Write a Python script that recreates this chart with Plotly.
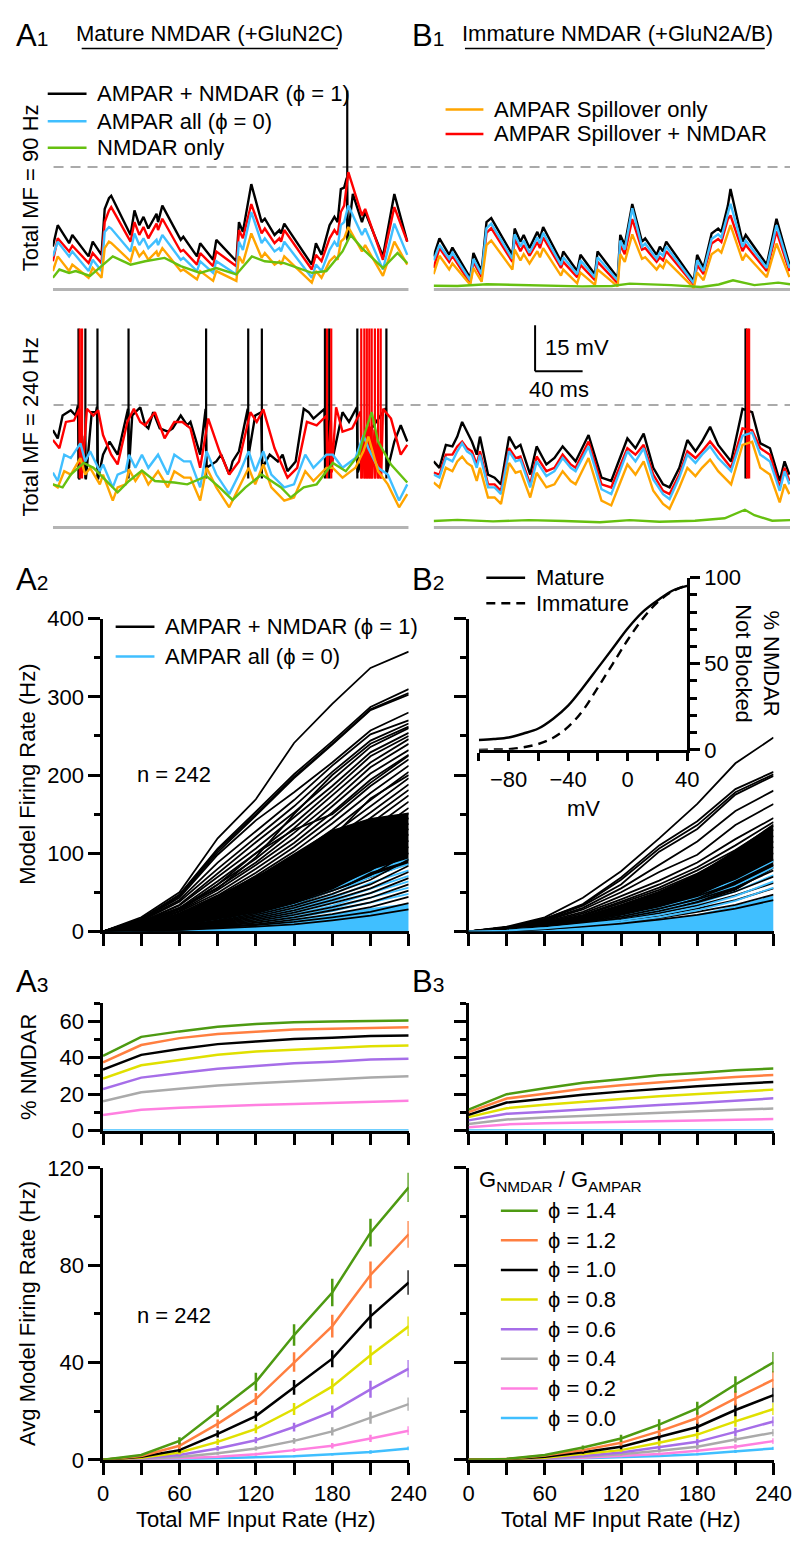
import plotly.graph_objects as go

W, H = 809, 1543
FONT = "Liberation Sans, Arial, sans-serif"
FS = 22

# colours
C_BLACK = "#000000"
C_BLUE = "#40bfff"
C_GREEN = "#66c010"
C_ORANGE = "#ffa500"
C_RED = "#ff0000"
PHI_COLORS = ["#4d9a12", "#ff7f40", "#000000", "#e0e000", "#a66ee8", "#aaaaaa", "#ff80e0", "#40bfff"]
PHI_LABELS = ["1.4", "1.2", "1.0", "0.8", "0.6", "0.4", "0.2", "0.0"]

# ---------------- voltage traces (ms, mV) ----------------
v_rest = -80
v_thr = -40
spike_top = -15
spike_base = -64

# A1, total MF = 90 Hz
a90_t = [0, 4.1, 13.7, 16.4, 30.1, 33.6, 41.0, 43.7, 47.3, 49.2, 65.5, 68.8, 72.9, 76.4, 80.5, 87.4, 88.7, 92.3,
         107.8, 110.0, 121.5, 124.2, 135.1, 137.8, 154.7, 156.9, 160.2, 167.3, 176.0, 178.7, 186.9, 191.0, 192.4,
         195.1, 218.3, 221.8, 226.5, 233.3, 237.4, 240.1, 242.8, 245.6, 249.1, 260.6, 263.3, 278.3, 287.9, 298.8]
a90_black_t = a90_t[:42] + [247.8, 248.6, 252.9] + a90_t[43:]
a90_black = [-66.0, -59.0, -64.9, -62.2, -69.2, -64.4, -68.7, -53.7, -50.2, -49.4, -62.2, -54.2, -59.0, -56.3, -60.1,
             -55.3, -58.0, -52.6, -63.8, -62.8, -69.2, -64.9, -70.3, -63.8, -70.8, -58.0, -61.2, -45.6, -58.0, -56.9,
             -62.2, -60.6, -61.7, -58.5, -71.9, -64.9, -68.7, -59.0, -56.3, -58.0, -47.2, -46.7,
             -43.5, -63.3, -48.8, -58.0, -54.7, -69.2, -48.8, -64.4]
a90_black_spikes = [248.2]
a90_red = [-70.8, -63.3, -67.6, -65.7, -71.4, -68.1, -71.4, -58.0, -54.2, -53.1, -64.4, -58.0, -62.2, -59.6, -63.3,
           -58.5, -60.6, -56.9, -67.6, -67.1, -71.9, -68.1, -72.4, -67.6, -72.4, -60.6, -63.3, -52.1, -61.7, -60.1,
           -64.9, -63.3, -64.4, -60.6, -73.5, -68.7, -70.8, -63.3, -60.6, -62.2, -54.7, -52.6, -41.7, -55.8, -53.7,
           -70.3, -53.1, -64.4]
a90_blue = [-69.2, -64.4, -69.2, -67.6, -74.0, -70.3, -74.0, -61.2, -59.6, -60.1, -67.6, -61.7, -65.5, -63.3, -66.5,
            -63.8, -65.5, -62.2, -70.3, -69.7, -74.0, -70.8, -74.6, -70.8, -75.1, -64.4, -67.1, -54.7, -64.9, -63.3,
            -67.6, -66.5, -67.6, -64.4, -76.2, -71.9, -74.0, -67.1, -64.4, -66.0, -59.0, -58.0, -52.6, -62.2, -60.1,
            -73.5, -58.5, -68.7]
a90_orange = [-74.0, -69.2, -74.0, -71.9, -76.2, -73.0, -76.2, -66.5, -64.4, -64.8, -70.8, -66.0, -69.2, -67.6, -70.3,
              -67.6, -69.2, -66.5, -74.0, -73.5, -76.7, -74.0, -77.2, -74.0, -77.2, -69.2, -71.4, -61.7, -69.7, -68.1,
              -71.9, -70.8, -71.9, -69.2, -77.8, -74.0, -76.2, -70.8, -69.2, -70.3, -64.4, -63.3, -59.6, -67.6, -65.5,
              -75.6, -64.4, -71.9]
a90_green_t = [0, 5.5, 13.7, 19.2, 31.4, 42.3, 50.5, 65.5, 77.8, 94.2, 107.8, 124.2, 137.8, 154.7, 167.8, 178.7,
               195.1, 218.3, 230.6, 244.2, 251.0, 260.6, 278.3, 290.6, 298.8]
a90_green = [-76.2, -73.5, -74.6, -74.0, -75.6, -71.9, -69.2, -71.9, -70.8, -69.7, -72.4, -74.6, -73.0, -75.1, -69.2,
             -70.8, -71.4, -74.6, -74.0, -67.6, -62.2, -66.5, -73.0, -68.1, -71.4]

# B1, total MF = 90 Hz
b90_t = [0, 4.9, 13.1, 15.8, 30.8, 33.5, 40.4, 44.5, 48.5, 66.3, 68.2, 73.1, 75.8, 80.7, 87.3, 89.5, 92.2, 107.2,
         109.1, 120.8, 123.6, 135.8, 138.0, 154.9, 157.1, 160.9, 167.2, 175.4, 178.1, 187.7, 190.4, 193.1, 195.8,
         219.0, 221.8, 227.2, 234.0, 239.5, 242.2, 247.7, 249.9, 260.0, 262.7, 280.4, 288.6, 299.5]
b90_black = [-69.2, -63.3, -68.7, -66.3, -76.2, -68.1, -74.0, -58.0, -56.7, -68.7, -60.1, -64.4, -62.2, -66.5, -61.2,
             -63.3, -59.6, -70.8, -67.6, -74.0, -68.7, -75.1, -67.6, -76.2, -62.2, -65.5, -52.1, -64.4, -63.3, -68.7,
             -66.0, -67.6, -64.4, -77.2, -68.7, -72.9, -61.7, -60.1, -61.2, -52.6, -47.2, -64.4, -62.2, -71.9, -56.9,
             -71.9]
b90_blue = [-70.5, -65.5, -70.0, -68.0, -77.0, -70.0, -75.0, -60.0, -58.5, -70.0, -62.0, -66.0, -64.0, -68.0, -63.0,
            -65.0, -61.5, -72.0, -69.5, -75.0, -70.5, -76.0, -69.5, -77.0, -64.0, -67.0, -53.5, -66.0, -65.0, -70.0,
            -68.0, -69.0, -66.0, -78.0, -70.5, -74.0, -63.5, -62.0, -63.0, -55.0, -52.0, -66.0, -64.0, -73.0, -59.0,
            -73.0]
b90_red = [-73.0, -66.5, -71.0, -69.0, -78.0, -71.0, -76.0, -61.5, -60.0, -71.0, -63.5, -67.5, -65.5, -69.0, -64.5,
           -66.5, -63.0, -73.0, -71.0, -76.0, -72.0, -77.0, -71.0, -78.0, -65.5, -68.5, -57.0, -67.0, -66.5, -71.0,
           -69.5, -70.5, -67.5, -78.5, -72.0, -75.0, -65.0, -63.5, -64.5, -57.0, -55.8, -67.5, -65.5, -74.0, -61.0,
           -74.0]
b90_orange = [-75.0, -69.0, -73.5, -71.5, -78.5, -73.0, -77.5, -65.5, -64.0, -73.5, -67.0, -70.5, -68.5, -71.5, -67.5,
              -69.5, -66.5, -75.5, -73.5, -78.0, -74.5, -78.5, -73.5, -79.0, -68.5, -71.0, -62.0, -70.0, -69.5, -73.5,
              -72.0, -73.0, -70.5, -79.5, -74.5, -77.0, -68.5, -67.0, -68.0, -61.5, -59.0, -70.5, -68.5, -76.0, -65.0,
              -76.0]
b90_green_t = [0, 20, 45, 70, 100, 125, 150, 165, 200, 225, 240, 252, 270, 290, 300]
b90_green = [-78.8, -78.9, -78.3, -78.5, -78.6, -79.0, -78.9, -78.1, -78.6, -79.2, -78.4, -77.0, -78.6, -77.8, -78.3]

# A1, total MF = 240 Hz
a240_black_t = [0, 4.1, 8.2, 15.1, 19.2, 21.1, 22.2, 26.0, 27.0, 27.8, 32.8, 36.3, 37.2, 38.0, 42.3, 47.8, 54.6, 60.1,
                63.4, 64.2, 66.9, 73.7, 77.8, 80.5, 84.6, 90.1, 96.9, 101.0, 107.8, 113.3, 116.0, 124.2, 128.8, 129.6,
                137.8, 141.9, 148.7, 151.5, 156.9, 164.3, 165.1, 170.6, 175.7, 176.6, 182.8, 189.7, 193.7, 197.8,
                204.7, 211.5, 215.6, 219.7, 222.4, 229.0, 229.9, 232.5, 233.4, 244.2, 249.7, 253.8, 256.3, 257.1,
                268.8, 278.3, 280.8, 281.6, 287.9, 293.3, 298.8]
a240_black = [-48.2, -50.9, -43.4, -41.7, -43.4, -40.1, -64.3, -56.0, -50.0, -64.3, -42.3, -42.3, -40.5, -64.3, -56.2,
              -51.9, -56.2, -46.6, -41.2, -60.5, -43.4, -40.7, -46.6, -47.6, -42.3, -47.6, -48.7, -47.6, -43.4, -46.6,
              -45.5, -56.2, -41.2, -60.5, -58.4, -56.2, -62.7, -58.4, -55.1, -41.2, -56.2, -43.4, -42.3, -60.5,
              -56.2, -58.4, -56.2, -61.6, -58.4, -41.2, -42.3, -44.4, -43.4, -41.2, -62.0, -45.0, -62.0, -42.3,
              -45.5, -42.3, -40.7, -62.0, -47.6, -42.3, -41.0, -62.0, -51.9, -46.6, -51.9]
a240_black_spikes = [21.6, 27.4, 37.6, 63.8, 129.2, 164.7, 176.2, 229.4, 233.0, 256.7, 281.2]
a240_red_t = [0, 5.5, 11.0, 17.8, 22.3, 23.1, 24.3, 25.0, 28.7, 34.2, 38.2, 42.3, 49.2, 54.6, 62.8, 68.3, 73.7, 77.8,
              86.0, 94.2, 102.4, 109.2, 116.0, 124.2, 131.0, 140.5, 148.7, 156.9, 166.5, 171.9, 177.4, 186.9, 197.8,
              206.0, 214.2, 222.4, 230.8, 231.5, 234.4, 235.1, 238.8, 244.2, 252.4, 259.6, 260.4, 262.3, 263.0,
              264.4, 265.1, 266.5, 267.2, 268.5, 269.2, 271.2, 271.9, 273.9, 274.6, 276.1, 276.8, 278.3, 285.1,
              293.3, 298.8]
a240_red = [-51.4, -54.1, -45.5, -45.0, -41.2, -62.0, -48.0, -62.0, -41.2, -43.4, -41.7, -49.8, -56.2, -59.4, -45.5,
            -41.2, -45.5, -46.6, -42.3, -50.9, -45.5, -45.5, -47.6, -60.5, -44.4, -55.1, -62.7, -58.4, -42.3, -45.5,
            -41.4, -54.1, -63.7, -60.5, -45.5, -46.6, -43.4, -62.0, -45.0, -62.0, -40.7, -48.7, -47.6, -42.0, -64.0,
            -50.0, -64.0, -48.0, -64.0, -47.0, -64.0, -47.0, -64.0, -48.0, -64.0, -50.0, -64.0, -52.0, -64.0, -41.2,
            -44.4, -56.2, -53.0]
a240_red_spikes = [22.7, 24.6, 231.1, 234.7, 260.0, 262.6, 264.7, 266.8, 268.8, 271.5, 274.2, 276.4]
a240_t = [0, 4.1, 9.6, 15.1, 23.2, 27.3, 31.4, 39.6, 42.3, 50.5, 54.6, 61.4, 64.2, 69.6, 75.1, 80.5, 88.7, 96.9,
          102.4, 110.5, 116.0, 124.2, 129.6, 137.8, 148.7, 156.9, 165.1, 170.6, 177.4, 184.2, 195.1, 203.3, 212.8,
          219.7, 230.6, 236.0, 244.2, 255.1, 261.9, 266.0, 274.2, 282.4, 291.9, 298.8]
a240_blue = [-62.1, -64.8, -56.2, -57.3, -52.5, -58.4, -55.1, -61.6, -59.4, -66.9, -62.7, -61.6, -56.2, -60.5, -56.2,
             -60.5, -56.2, -62.7, -56.2, -58.4, -58.4, -66.9, -55.1, -62.7, -69.1, -62.7, -55.1, -61.6, -55.1, -62.7,
             -66.9, -65.9, -56.2, -60.5, -56.2, -56.2, -60.5, -57.3, -49.8, -54.1, -60.5, -62.7, -71.2, -65.9]
a240_orange = [-65.9, -66.9, -61.6, -62.7, -57.3, -62.7, -60.5, -65.9, -62.7, -71.2, -66.9, -65.9, -61.0, -64.8,
               -61.6, -65.9, -61.6, -66.9, -61.6, -63.7, -63.7, -71.2, -60.5, -66.9, -73.4, -66.9, -60.5, -65.9,
               -59.4, -66.9, -71.2, -70.2, -61.6, -64.8, -60.5, -60.5, -63.7, -60.5, -55.0, -50.3, -61.6, -65.9,
               -73.4, -69.1]
a240_green_t = [0, 8.2, 15.1, 26.0, 34.2, 42.3, 54.6, 64.2, 75.1, 86.0, 102.4, 113.3, 129.6, 140.5, 151.5, 162.4,
                176.0, 192.4, 200.6, 211.5, 222.4, 236.0, 247.0, 257.9, 263.3, 268.8, 274.2, 285.1, 298.8]
a240_green = [-65.9, -66.9, -62.7, -58.9, -60.5, -63.7, -68.5, -64.8, -61.4, -64.8, -65.3, -65.9, -63.2, -66.9, -71.0,
              -66.9, -62.7, -66.9, -70.2, -66.9, -65.9, -58.9, -61.6, -56.2, -48.7, -42.3, -51.9, -59.4, -65.3]

# B1, total MF = 240 Hz
b240_t = [0, 4.9, 10.3, 15.8, 19.9, 24.0, 28.1, 32.2, 36.3, 39.0, 45.8, 51.3, 56.7, 63.5, 69.0, 73.1, 81.3, 86.7,
          94.9, 101.7, 108.6, 115.4, 119.5, 130.4, 141.3, 149.5, 163.1, 169.9, 176.8, 184.9, 193.1, 198.6, 206.8,
          213.6, 220.4, 225.9, 232.7, 239.5, 250.4, 260.0, 268.1, 275.0, 283.1, 291.3, 295.4, 299.5]
b240_black = [-58.4, -60.5, -53.0, -53.5, -50.3, -45.5, -48.7, -51.9, -56.2, -50.3, -62.7, -63.7, -65.9, -50.3, -54.1,
              -53.0, -62.7, -53.5, -59.4, -57.3, -53.5, -56.8, -58.4, -49.8, -63.7, -64.8, -50.9, -54.1, -49.3, -60.5,
              -65.9, -66.9, -60.5, -51.4, -55.1, -51.9, -47.1, -53.0, -58.4, -41.2, -42.3, -52.5, -54.1, -64.8, -58.4,
              -62.7]
b240_red = [-62.1, -62.7, -56.2, -56.2, -53.5, -51.9, -54.1, -55.1, -59.4, -55.1, -65.9, -65.9, -68.0, -54.1, -57.3,
            -56.8, -65.9, -56.8, -61.6, -60.5, -56.2, -59.4, -60.5, -51.9, -65.9, -66.9, -54.1, -56.2, -53.0, -62.7,
            -68.0, -69.1, -62.7, -55.1, -57.3, -55.1, -51.9, -55.1, -60.5, -47.6, -48.2, -54.1, -56.2, -66.9, -60.5,
            -64.8]
b240_blue = [-62.7, -63.7, -57.3, -58.4, -55.1, -52.5, -55.1, -56.2, -60.5, -56.2, -66.9, -66.9, -69.1, -55.1, -58.4,
             -57.8, -66.9, -58.4, -63.2, -61.6, -57.3, -60.5, -61.6, -53.5, -67.5, -69.1, -55.1, -58.4, -54.1, -64.3,
             -69.1, -70.7, -63.7, -56.2, -58.9, -56.2, -53.5, -57.3, -61.6, -50.0, -49.0, -56.2, -58.4, -68.0, -61.6,
             -65.9]
b240_orange = [-65.3, -66.9, -60.5, -61.6, -58.4, -56.8, -58.9, -60.0, -64.8, -60.5, -70.2, -70.2, -72.3, -58.9,
               -62.1, -61.6, -70.2, -62.1, -66.9, -65.9, -61.6, -64.8, -65.9, -57.3, -71.2, -72.8, -59.4, -62.7,
               -58.4, -68.0, -72.3, -73.9, -66.9, -60.5, -63.2, -60.5, -57.8, -61.6, -65.9, -53.0, -52.0, -60.5,
               -62.7, -71.8, -65.9, -69.1]
b240_black_spikes = [262.7]
b240_red_spikes = [264.0, 265.4]
b240_green_t = [0, 20, 50, 80, 110, 140, 165, 190, 220, 245, 262, 270, 285, 300]
b240_green = [-77.9, -77.5, -78.0, -77.6, -77.9, -78.3, -77.6, -78.1, -77.8, -77.0, -74.2, -76.0, -77.8, -77.6]

scalebar_ms = 40
scalebar_mv = 15

# ---------------- firing rate vs input rate ----------------
mf_rate = [0, 30, 60, 90, 120, 150, 180, 210, 240]

a2_black = [
    [0, 18, 50, 119, 169, 241, 291, 337, 358],
    [0, 16, 47, 106, 153, 201, 243, 287, 310],
    [0, 16, 46, 104, 150, 198, 240, 284, 305],
    [0, 15, 45, 101, 148, 196, 239, 283, 303],
    [0, 15, 43, 98, 142, 178, 216, 257, 280],
    [0, 14, 40, 88, 128, 168, 212, 252, 270],
    [0, 12, 30, 55, 95, 150, 200, 240, 262],
    [0, 13, 38, 80, 120, 160, 204, 244, 266],
    [0, 12, 34, 74, 114, 152, 194, 236, 260],
    [0, 12, 33, 70, 106, 146, 186, 229, 254],
    [0, 11, 30, 64, 100, 138, 180, 224, 250],
    [0, 11, 29, 60, 93, 132, 174, 216, 246],
    [0, 10, 28, 56, 88, 126, 166, 210, 240],
    [0, 10, 26, 53, 85, 119, 160, 202, 232],
    [0, 9, 26, 60, 100, 130, 150, 190, 225],
    [0, 9, 25, 49, 80, 113, 152, 194, 226],
    [0, 9, 23, 46, 75, 108, 145, 186, 220],
    [0, 8, 22, 43, 71, 102, 138, 177, 212],
    [0, 8, 20, 41, 67, 96, 130, 168, 204],
    [0, 6, 20, 45, 70, 90, 120, 170, 200],
    [0, 7, 19, 38, 63, 91, 124, 160, 196],
    [0, 7, 18, 36, 59, 86, 118, 152, 188],
    [0, 6, 17, 33, 55, 81, 111, 145, 181],
    [0, 6, 15, 31, 51, 76, 105, 138, 174],
    [0, 6, 14, 29, 48, 72, 99, 130, 166],
    [0, 5, 13, 27, 45, 67, 93, 123, 158],
    [0, 5, 12, 25, 42, 63, 87, 116, 151],
    [0, 5, 11, 23, 39, 59, 82, 109, 145],
    [0, 4, 10, 21, 36, 55, 77, 102, 138],
    [0, 4, 10, 19, 33, 51, 72, 96, 131],
    [0, 4, 9, 17, 31, 47, 67, 90, 124],
    [0, 3, 8, 16, 28, 43, 62, 84, 116],
    [0, 3, 7, 14, 26, 40, 57, 78, 108],
    [0, 3, 7, 13, 23, 36, 52, 72, 100],
    [0, 3, 6, 12, 21, 33, 48, 66, 92],
    [0, 2, 5, 11, 19, 30, 44, 60, 84],
    [0, 2, 5, 10, 17, 27, 40, 55, 76],
    [0, 2, 4, 9, 15, 24, 36, 49, 68],
    [0, 2, 4, 8, 13, 21, 31, 43, 60],
    [0, 1, 3, 7, 11, 18, 27, 37, 52],
    [0, 1, 3, 6, 9, 15, 22, 31, 44],
    [0, 1, 2, 5, 8, 12, 18, 25, 36],
    [0, 1, 2, 4, 6, 9, 14, 20, 28],
]
a2_blue = [
    [0, 3, 8, 14, 22, 35, 52, 77, 92],
    [0, 3, 7, 13, 20, 31, 47, 70, 86],
    [0, 2, 6, 11, 18, 28, 42, 62, 78],
    [0, 2, 5, 10, 16, 25, 38, 55, 71],
    [0, 2, 5, 9, 14, 22, 33, 49, 64],
    [0, 2, 4, 8, 12, 19, 29, 43, 56],
    [0, 1, 4, 7, 11, 17, 26, 37, 48],
]
a2_core_lo = [0, 2, 6, 12, 21, 33, 50, 68, 86]
a2_core_hi = [0, 7, 22, 44, 70, 100, 130, 145, 152]
a2_blue_fill = [0, 1, 3, 6, 10, 15, 22, 30, 36]

b2_black = [
    [0, 6, 18, 43, 77, 119, 163, 215, 248],
    [0, 5, 16, 35, 69, 110, 141, 182, 204],
    [0, 5, 16, 34, 66, 106, 136, 178, 201],
    [0, 5, 15, 33, 60, 102, 131, 175, 199],
    [0, 5, 14, 30, 55, 85, 115, 154, 180],
    [0, 4, 13, 28, 50, 76, 98, 136, 163],
    [0, 4, 12, 25, 45, 65, 88, 118, 145],
    [0, 4, 11, 23, 41, 60, 82, 110, 140],
    [0, 3, 10, 21, 38, 56, 78, 104, 135],
    [0, 3, 10, 20, 36, 53, 74, 100, 130],
    [0, 3, 9, 18, 33, 49, 68, 92, 122],
    [0, 3, 8, 17, 30, 45, 62, 85, 115],
    [0, 3, 8, 15, 27, 41, 57, 79, 108],
    [0, 2, 7, 14, 25, 38, 53, 73, 100],
    [0, 2, 6, 13, 23, 35, 49, 67, 92],
    [0, 2, 6, 12, 21, 32, 45, 62, 85],
    [0, 2, 5, 11, 19, 29, 41, 56, 78],
    [0, 2, 5, 10, 17, 26, 37, 51, 70],
    [0, 2, 4, 9, 15, 23, 33, 46, 62],
    [0, 1, 4, 8, 13, 20, 29, 40, 55],
    [0, 1, 3, 7, 11, 17, 25, 34, 47],
    [0, 1, 3, 6, 10, 15, 21, 29, 40],
]
b2_blue = [
    [0, 2, 6, 12, 20, 30, 44, 66, 90],
    [0, 2, 5, 11, 18, 27, 40, 58, 82],
    [0, 2, 5, 10, 16, 24, 35, 51, 72],
    [0, 1, 4, 9, 14, 21, 31, 45, 64],
    [0, 1, 4, 8, 12, 18, 27, 39, 56],
]
b2_core_lo = [0, 2, 5, 10, 17, 26, 37, 52, 80]
b2_core_hi = [0, 3, 9, 20, 35, 52, 74, 104, 138]
b2_blue_fill = [0, 1, 3, 6, 10, 15, 22, 33, 46]

# Mg block curves (inset)
block_mv = [-100, -90, -80, -70, -60, -50, -40, -30, -20, -10, 0, 10, 20, 30, 40]
block_mature = [5.7, 6.3, 7.2, 9.5, 12.4, 18.1, 25.7, 36.2, 47.6, 59.0, 70.5, 80.0, 86.7, 92.4, 95.2]
block_immature = [0, 0.2, 0.4, 1.5, 3.4, 7.0, 13.3, 23.0, 36.2, 50.0, 63.8, 76.0, 85.7, 92.0, 95.6]

# % NMDAR (order: phi 1.4 ... 0.0)
a3_pct = [
    [41.0, 51.5, 54.5, 57.0, 58.5, 59.5, 60.0, 60.3, 60.5],
    [37.5, 47.0, 50.8, 53.0, 54.3, 55.5, 56.0, 56.6, 56.8],
    [33.5, 41.6, 44.8, 47.5, 49.0, 50.3, 51.0, 52.0, 52.3],
    [28.6, 35.9, 38.8, 41.6, 43.4, 44.5, 45.5, 46.3, 46.7],
    [22.8, 29.1, 31.7, 34.0, 35.5, 37.0, 37.8, 39.0, 39.5],
    [16.1, 21.0, 23.0, 24.8, 26.0, 27.2, 28.1, 29.2, 29.9],
    [8.6, 11.5, 12.6, 13.5, 14.1, 14.6, 15.2, 15.9, 16.4],
    [0, 0, 0, 0, 0, 0, 0, 0, 0],
]
b3_pct = [
    [11.5, 20.0, 23.2, 26.3, 28.2, 30.4, 31.6, 33.2, 34.1],
    [10.1, 17.6, 20.3, 23.0, 24.9, 26.7, 28.1, 29.5, 30.6],
    [8.6, 15.4, 17.5, 19.7, 21.4, 23.0, 24.3, 25.6, 26.7],
    [7.4, 12.3, 14.2, 15.9, 17.3, 18.8, 20.0, 21.3, 22.5],
    [5.6, 9.2, 10.4, 11.7, 13.0, 14.1, 15.1, 16.4, 17.7],
    [3.6, 6.1, 7.2, 8.1, 9.0, 9.9, 10.7, 11.4, 12.1],
    [1.8, 3.4, 4.0, 4.5, 4.9, 5.2, 5.6, 6.0, 6.3],
    [0, 0, 0, 0, 0, 0, 0, 0, 0],
]

# average firing rate +- error
a3_rate = [
    [0, 2.0, 7.8, 20.0, 32.1, 51.3, 68.8, 93.4, 112.0],
    [0, 1.6, 5.8, 14.8, 25.0, 40.2, 55.0, 76.0, 92.7],
    [0, 1.3, 4.0, 10.7, 18.0, 29.8, 41.6, 59.0, 72.9],
    [0, 0.9, 3.0, 7.4, 12.7, 20.9, 30.2, 43.0, 54.9],
    [0, 0.7, 2.0, 4.7, 8.1, 13.5, 19.8, 29.0, 37.5],
    [0, 0.4, 1.2, 2.7, 4.7, 7.8, 11.7, 17.3, 22.9],
    [0, 0.2, 0.7, 1.3, 2.3, 4.0, 5.8, 8.8, 12.0],
    [0, 0.1, 0.3, 0.7, 1.1, 1.5, 2.3, 3.2, 4.7],
]
a3_err = [
    [0, 0.3, 1.5, 2.4, 3.7, 4.4, 5.7, 5.7, 6.0],
    [0, 0.3, 1.3, 1.8, 2.5, 4.0, 4.7, 5.5, 5.5],
    [0, 0.2, 1.0, 1.5, 2.0, 3.0, 3.5, 5.0, 5.0],
    [0, 0.2, 0.8, 1.3, 1.8, 2.5, 3.2, 4.0, 4.0],
    [0, 0.1, 0.6, 1.0, 1.3, 1.8, 2.5, 3.5, 3.5],
    [0, 0.1, 0.4, 0.6, 0.9, 1.2, 1.7, 2.5, 2.7],
    [0, 0, 0.2, 0.4, 0.6, 0.8, 1.1, 1.5, 1.8],
    [0, 0, 0.1, 0.2, 0.3, 0.4, 0.5, 0.7, 0.8],
]
b3_rate = [
    [0, 0.4, 2.0, 5.1, 8.8, 14.5, 21.2, 31.0, 40.1],
    [0, 0.3, 1.8, 4.0, 7.0, 11.7, 17.2, 25.3, 33.0],
    [0, 0.3, 1.3, 3.1, 5.4, 9.5, 13.5, 20.5, 26.6],
    [0, 0.2, 0.9, 2.3, 4.0, 7.0, 10.4, 15.8, 20.9],
    [0, 0.1, 0.7, 1.6, 3.0, 5.1, 7.4, 11.5, 15.8],
    [0, 0.1, 0.5, 1.3, 2.3, 3.7, 5.4, 8.4, 11.2],
    [0, 0.1, 0.4, 0.9, 1.5, 2.4, 3.7, 5.4, 7.7],
    [0, 0.1, 0.4, 0.7, 1.1, 1.6, 2.3, 3.4, 4.7],
]
b3_err = [
    [0, 0.1, 0.4, 0.8, 1.5, 2.2, 2.7, 3.4, 4.2],
    [0, 0.1, 0.3, 0.7, 1.2, 1.8, 2.4, 3.0, 3.5],
    [0, 0.1, 0.3, 0.6, 1.0, 1.5, 2.0, 2.6, 3.0],
    [0, 0.1, 0.2, 0.5, 0.8, 1.2, 1.7, 2.2, 2.5],
    [0, 0, 0.2, 0.4, 0.6, 1.0, 1.3, 1.7, 2.0],
    [0, 0, 0.1, 0.3, 0.5, 0.7, 1.0, 1.3, 1.5],
    [0, 0, 0.1, 0.2, 0.4, 0.5, 0.7, 1.0, 1.2],
    [0, 0, 0.1, 0.1, 0.2, 0.3, 0.4, 0.6, 0.7],
]


# ---------------- helpers ----------------
def px(x):
    return x / W


def py(y):
    return 1 - y / H


def ax(n):
    s = "" if n == 1 else str(n)
    return "x" + s, "y" + s


fig = go.Figure()


def line(n, x, y, color, width=2.4, dash="solid", shape="linear", **kw):
    xa, ya = ax(n)
    fig.add_trace(go.Scatter(x=x, y=y, mode="lines", xaxis=xa, yaxis=ya, hoverinfo="skip", showlegend=False,
                             line=dict(color=color, width=width, dash=dash, shape=shape), **kw))


def spikes(n, times, color, width=2.2):
    xs, ys = [], []
    for s in times:
        xs += [s, s, None]
        ys += [spike_base, spike_top, None]
    line(n, xs, ys, color, width)


# ---- voltage trace panels: 1 A90, 2 B90, 3 A240, 4 B240
line(1, a90_black_t, a90_black, C_BLACK)
spikes(1, a90_black_spikes, C_BLACK)
line(1, a90_t, a90_red, C_RED)
line(1, a90_t, a90_blue, C_BLUE)
line(1, a90_t, a90_orange, C_ORANGE)
line(1, a90_green_t, a90_green, C_GREEN)

line(2, b90_t, b90_black, C_BLACK)
line(2, b90_t, b90_red, C_RED)
line(2, b90_t, b90_blue, C_BLUE)
line(2, b90_t, b90_orange, C_ORANGE)
line(2, b90_green_t, b90_green, C_GREEN)

line(3, a240_black_t, a240_black, C_BLACK)
spikes(3, a240_black_spikes, C_BLACK)
line(3, a240_red_t, a240_red, C_RED)
spikes(3, a240_red_spikes, C_RED)
line(3, a240_t, a240_blue, C_BLUE)
line(3, a240_t, a240_orange, C_ORANGE)
line(3, a240_green_t, a240_green, C_GREEN)

line(4, b240_t, b240_black, C_BLACK)
spikes(4, b240_black_spikes, C_BLACK, 2.6)
line(4, b240_t, b240_red, C_RED)
spikes(4, b240_red_spikes, C_RED, 2.6)
line(4, b240_t, b240_blue, C_BLUE)
line(4, b240_t, b240_orange, C_ORANGE)
line(4, b240_green_t, b240_green, C_GREEN)


# ---- firing-rate panels: 5 A2, 6 B2
def rate_panel(n, core_lo, core_hi, blue_fill, blacks, blues):
    xa, ya = ax(n)
    fig.add_trace(go.Scatter(x=mf_rate + mf_rate[::-1], y=core_hi + core_lo[::-1], mode="lines", fill="toself",
                             fillcolor=C_BLACK, line=dict(width=0, color=C_BLACK), xaxis=xa, yaxis=ya,
                             hoverinfo="skip", showlegend=False))
    fig.add_trace(go.Scatter(x=mf_rate, y=blue_fill, mode="lines", fill="tozeroy", fillcolor=C_BLUE,
                             line=dict(width=0, color=C_BLUE), xaxis=xa, yaxis=ya, hoverinfo="skip",
                             showlegend=False))
    for i, row in enumerate(blacks):
        line(n, mf_rate, row, C_BLACK, 1.8)
        if i % 5 == 4 and blues:
            line(n, mf_rate, blues.pop(0), C_BLUE, 1.8)
    for row in blues:
        line(n, mf_rate, row, C_BLUE, 1.8)


rate_panel(5, a2_core_lo, a2_core_hi, a2_blue_fill, a2_black, list(a2_blue))
rate_panel(6, b2_core_lo, b2_core_hi, b2_blue_fill, b2_black, list(b2_blue))

# ---- inset 7
line(7, block_mv, block_mature, C_BLACK, 2.4, shape="spline")
line(7, block_mv, block_immature, C_BLACK, 2.4, dash="9px,6px", shape="spline")

# ---- % NMDAR 8 (A3) 9 (B3); avg rate 10 (A3) 11 (B3)
for k in range(len(PHI_COLORS) - 1, -1, -1):
    line(8, mf_rate, a3_pct[k], PHI_COLORS[k], 2.5)
    line(9, mf_rate, b3_pct[k], PHI_COLORS[k], 2.5)
    line(10, mf_rate, a3_rate[k], PHI_COLORS[k], 2.5,
         error_y=dict(type="data", array=a3_err[k], visible=True, thickness=2.5, width=0, color=PHI_COLORS[k]))
    line(11, mf_rate, b3_rate[k], PHI_COLORS[k], 2.5,
         error_y=dict(type="data", array=b3_err[k], visible=True, thickness=2.5, width=0, color=PHI_COLORS[k]))

# ---------------- axes ----------------
layout = {}


def set_axes(n, xdom, ydom, xr, yr, xkw=None, ykw=None):
    s = "" if n == 1 else str(n)
    xa, ya = ax(n)
    xd = dict(domain=[px(xdom[0]), px(xdom[1])], range=xr, anchor=ya, showgrid=False, zeroline=False,
              fixedrange=True)
    yd = dict(domain=[py(ydom[1]), py(ydom[0])], range=yr, anchor=xa, showgrid=False, zeroline=False,
              fixedrange=True)
    xd.update(xkw or dict(visible=False))
    yd.update(ykw or dict(visible=False))
    layout["xaxis" + s] = xd
    layout["yaxis" + s] = yd


TICKFONT = dict(family=FONT, size=FS, color="black")


def tick_axis(dtick, minor_dtick, minor_len, labels, ticklen=12, **kw):
    d = dict(visible=True, showline=True, linecolor="black", linewidth=2.5, ticks="outside", ticklen=ticklen,
             tickwidth=2.5, tickcolor="black", tick0=0, dtick=dtick, showticklabels=labels, tickfont=TICKFONT,
             layer="below traces",
             minor=dict(ticks="outside", dtick=minor_dtick, ticklen=minor_len, tickwidth=2.5, tickcolor="black",
                        showgrid=False))
    d.update(kw)
    return d


TR_Y90 = (70.5, 288.2)
TR_Y240 = (312.5, 530.2)
TR_RANGE = [-82, -12]
set_axes(1, (48.3, 415), TR_Y90, [0, 300], TR_RANGE)
set_axes(2, (440.7, 808), TR_Y90, [0, 300], TR_RANGE)
set_axes(3, (48.3, 415), TR_Y240, [0, 300], TR_RANGE)
set_axes(4, (440.7, 808), TR_Y240, [0, 300], TR_RANGE)

XA = (100, 415)
XB = (476.7, 791)
set_axes(5, XA, (616.7, 934.5), [0, 240], [0, 400], tick_axis(60, 30, 12, False), tick_axis(100, 50, 6, True))
set_axes(6, XB, (616.7, 934.5), [0, 240], [0, 400], tick_axis(60, 30, 12, False), tick_axis(100, 50, 6, False))
set_axes(7, (487.3, 702), (575, 750), [-100, 40], [0, 100],
         tick_axis(40, 20, 8, True, ticklen=8), tick_axis(50, 10, 7, True, ticklen=10, side="right"))
set_axes(8, XA, (1007.5, 1137), [0, 240], [0, 70], tick_axis(60, 30, 12, False), tick_axis(20, 10, 6, True))
set_axes(9, XB, (1007.5, 1137), [0, 240], [0, 70], tick_axis(60, 30, 12, False), tick_axis(20, 10, 6, False))
set_axes(10, XA, (1175, 1471.7), [0, 240], [0, 120], tick_axis(60, 30, 12, True), tick_axis(40, 20, 6, True))
set_axes(11, XB, (1175, 1471.7), [0, 240], [0, 120], tick_axis(60, 30, 12, True), tick_axis(40, 20, 6, False))

# ---------------- shapes & annotations ----------------
shapes = []
ann = []


def seg(x0, y0, x1, y1, color="black", width=2.5, dash="solid"):
    shapes.append(dict(type="line", xref="paper", yref="paper", x0=px(x0), y0=py(y0), x1=px(x1), y1=py(y1),
                       line=dict(color=color, width=width, dash=dash)))


def note(text, x, y, size=FS, xa="left", ya="middle", angle=0):
    ann.append(dict(text=text, x=px(x), y=py(y), xref="paper", yref="paper", showarrow=False, textangle=angle,
                    xanchor=xa, yanchor=ya, font=dict(family=FONT, size=size, color="black")))


# baselines and thresholds of the voltage panels
for xr_, yr_ in (("x", "y"), ("x2", "y2"), ("x3", "y3"), ("x4", "y4")):
    shapes.append(dict(type="line", xref=xr_, yref=yr_, x0=0, x1=300, y0=v_rest, y1=v_rest, layer="below",
                       line=dict(color="#b4b4b4", width=3)))
for yr_ in ("y", "y3"):
    shapes.append(dict(type="line", xref="paper", yref=yr_, x0=px(49), x1=px(808), y0=v_thr, y1=v_thr,
                       layer="below", line=dict(color="#aaaaaa", width=2, dash="10px,7px")))

# scale bar (in B1 240 Hz panel coordinates)
sb_t0, sb_v0 = 85.4, -28.9
shapes.append(dict(type="line", xref="x4", yref="y4", x0=sb_t0, x1=sb_t0, y0=sb_v0, y1=sb_v0 + scalebar_mv,
                   line=dict(color="black", width=2)))
shapes.append(dict(type="line", xref="x4", yref="y4", x0=sb_t0, x1=sb_t0 + scalebar_ms, y0=sb_v0, y1=sb_v0,
                   line=dict(color="black", width=2)))
note("15 mV", 553, 341)
note("40 ms", 570, 384, xa="center")

# panel letters
for L, n, x, y in (("A", 1, 8, 24), ("B", 1, 416, 24), ("A", 2, 8, 577), ("B", 2, 416, 577),
                   ("A", 3, 8, 985), ("B", 3, 416, 985)):
    note(f"{L}<span style='font-size:21px'>{n}</span>", x, y, size=31)

# headers
note("Mature NMDAR (+GluN2C)", 210, 22, xa="center")
note("Immature NMDAR (+GluN2A/B)", 630, 22, xa="center")
seg(78, 37, 342, 37, width=1.5)
seg(473, 37, 782, 37, width=1.5)

# trace-row labels
note("Total MF = 90 Hz", 25, 179, xa="center", angle=-90)
note("Total MF = 240 Hz", 25, 422, xa="center", angle=-90)

# A1 / B1 legends
for y, c, t in ((83, C_BLACK, "AMPAR + NMDAR (ϕ = 1)"), (111, C_BLUE, "AMPAR all (ϕ = 0)"),
                (138, C_GREEN, "NMDAR only")):
    seg(43, y, 83, y, c, 2.5)
    note(t, 92, y)
for y, c, t in ((99, C_ORANGE, "AMPAR Spillover only"), (124, C_RED, "AMPAR Spillover + NMDAR")):
    seg(453, y, 492, y, c, 2.5)
    note(t, 501, y)

# A2 / B2
note("Model Firing Rate (Hz)", 22, 775, xa="center", angle=-90)
for y, c, t in ((625, C_BLACK, "AMPAR + NMDAR (ϕ = 1)"), (655, C_BLUE, "AMPAR all (ϕ = 0)")):
    seg(113, y, 153, y, c, 2.5)
    note(t, 162, y)
note("n = 242", 133, 775)
seg(495, 575, 535, 575, "black", 2.4)
seg(495, 601, 535, 601, "black", 2.4, dash="9px,6px")
note("Mature", 544, 575)
note("Immature", 544, 601)
note("mV", 595, 810, xa="center")
note("% NMDAR<br>Not Blocked", 774, 662, xa="center", angle=90)

# A3 / B3
note("% NMDAR", 23, 1072, xa="center", angle=-90)
note("Avg Model Firing Rate (Hz)", 22, 1323, xa="center", angle=-90)
note("n = 242", 133, 1325)
note("Total MF Input Rate (Hz)", 258, 1532, xa="center")
note("Total MF Input Rate (Hz)", 634, 1532, xa="center")
note("G<sub>NMDAR</sub> / G<sub>AMPAR</sub>", 485, 1188)
for i, (c, lab) in enumerate(zip(PHI_COLORS, PHI_LABELS)):
    y = 1218.5 + 30.1 * i
    seg(510, y, 548, y, c, 2.5)
    note(f"ϕ = {lab}", 557, y)

layout.update(dict(width=W, height=H, margin=dict(l=0, r=0, t=0, b=0), paper_bgcolor="white",
                   plot_bgcolor="rgba(0,0,0,0)", showlegend=False, shapes=shapes, annotations=ann,
                   font=dict(family=FONT, size=FS, color="black")))
fig.update_layout(**layout)
fig.write_html("out.html", config={"displayModeBar": False},
               post_script="document.body.style.margin='0';document.body.style.overflow='hidden';")
